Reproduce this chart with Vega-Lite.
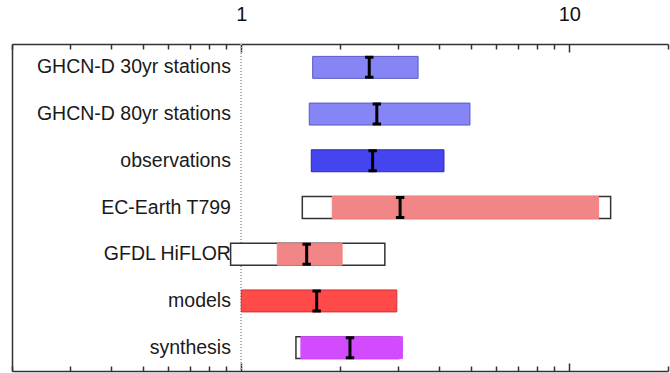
{
  "$schema": "https://vega.github.io/schema/vega-lite/v6.json",
  "width": 656,
  "height": 327,
  "autosize": "none",
  "padding": {"left": 12, "top": 44, "right": 2, "bottom": 2},
  "background": "white",
  "config": {
    "view": {"stroke": null},
    "font": "Liberation Sans",
    "axis": {"domainColor": "#333", "domainWidth": 1.5, "tickColor": "#333", "tickWidth": 1.5, "grid": false, "title": null}
  },
  "datasets": {
    "boxes": [
      {"name": "EC-Earth T799", "lo": 1.535, "hi": 13.37},
      {"name": "GFDL HiFLOR", "lo": 0.928, "hi": 2.74},
      {"name": "synthesis", "lo": 1.468, "hi": 3.02}
    ],
    "bars": [
      {"name": "GHCN-D 30yr stations", "kind": "station", "lo": 1.651, "hi": 3.46, "mid": 2.456},
      {"name": "GHCN-D 80yr stations", "kind": "station", "lo": 1.612, "hi": 4.98, "mid": 2.59},
      {"name": "observations", "kind": "obs", "lo": 1.635, "hi": 4.15, "mid": 2.515},
      {"name": "EC-Earth T799", "kind": "model1", "lo": 1.894, "hi": 12.29, "mid": 3.05},
      {"name": "GFDL HiFLOR", "kind": "model1", "lo": 1.288, "hi": 2.03, "mid": 1.583},
      {"name": "models", "kind": "models", "lo": 1.0, "hi": 2.98, "mid": 1.698},
      {"name": "synthesis", "kind": "synth", "lo": 1.52, "hi": 3.10, "mid": 2.145}
    ]
  },
  "resolve": {"axis": {"x": "independent", "y": "independent"}},
  "layer": [
    {
      "data": {"name": "bars"},
      "mark": {"type": "rule", "strokeDash": [1, 2], "color": "#aaa", "strokeWidth": 1},
      "encoding": {
        "x": {"datum": 1, "type": "quantitative", "scale": {"type": "log", "domain": [0.2, 20], "nice": false}, "axis": null}
      }
    },
    {
      "data": {"name": "boxes"},
      "mark": {"type": "bar", "fill": "white", "stroke": "#333", "strokeWidth": 1.5},
      "encoding": {
        "y": {"field": "name", "type": "nominal",
              "scale": {"domain": ["GHCN-D 30yr stations", "GHCN-D 80yr stations", "observations", "EC-Earth T799", "GFDL HiFLOR", "models", "synthesis"], "paddingInner": 0.53, "paddingOuter": 0.265},
              "axis": {"orient": "left", "labels": false, "ticks": false, "domain": true}},
        "x": {"field": "lo", "type": "quantitative", "scale": {"type": "log", "domain": [0.2, 20], "nice": false},
              "axis": {"orient": "top", "values": [1, 10], "tickSize": -8, "labelFontSize": 20, "labelColor": "#111", "labelPadding": 28, "domain": true}},
        "x2": {"field": "hi"}
      }
    },
    {
      "data": {"name": "bars"},
      "mark": {"type": "bar", "strokeWidth": 1},
      "encoding": {
        "y": {"field": "name", "type": "nominal", "axis": null},
        "x": {"field": "lo", "type": "quantitative",
              "axis": {"orient": "top", "values": [0.2, 0.3, 0.4, 0.5, 0.6, 0.7, 0.8, 0.9, 2, 3, 4, 5, 6, 7, 8, 9, 20], "tickSize": -5, "labels": false, "domain": false}},
        "x2": {"field": "hi"},
        "fill": {"field": "kind", "type": "nominal", "legend": null,
                 "scale": {"domain": ["station", "obs", "model1", "models", "synth"], "range": ["#8585F5", "#4545F0", "#F28585", "#FF4A4A", "#D24BFF"]}},
        "stroke": {"field": "kind", "type": "nominal", "legend": null,
                   "scale": {"domain": ["station", "obs", "model1", "models", "synth"], "range": ["#5858C8", "#2A2AB0", "#F28585", "#D03030", "#D24BFF"]}}
      }
    },
    {
      "data": {"name": "bars"},
      "mark": {"type": "point", "shape": "M-0.42,-1H0.42M0,-1V1M-0.42,1H0.42", "size": 400, "filled": false, "stroke": "black", "strokeWidth": 3, "opacity": 1},
      "encoding": {
        "y": {"field": "name", "type": "nominal", "axis": null},
        "x": {"field": "mid", "type": "quantitative",
              "axis": {"orient": "bottom", "values": [1, 10], "tickSize": -8, "labels": false, "domain": true}}
      }
    },
    {
      "data": {"name": "bars"},
      "mark": {"type": "text", "align": "right", "baseline": "middle", "fontSize": 19.5, "color": "#1a1a1a"},
      "encoding": {
        "y": {"field": "name", "type": "nominal", "axis": null},
        "x": {"datum": 0.93, "type": "quantitative",
              "axis": {"orient": "bottom", "values": [0.2, 0.3, 0.4, 0.5, 0.6, 0.7, 0.8, 0.9, 2, 3, 4, 5, 6, 7, 8, 9, 20], "tickSize": -5, "labels": false, "domain": false}},
        "text": {"field": "name"}
      }
    }
  ]
}
